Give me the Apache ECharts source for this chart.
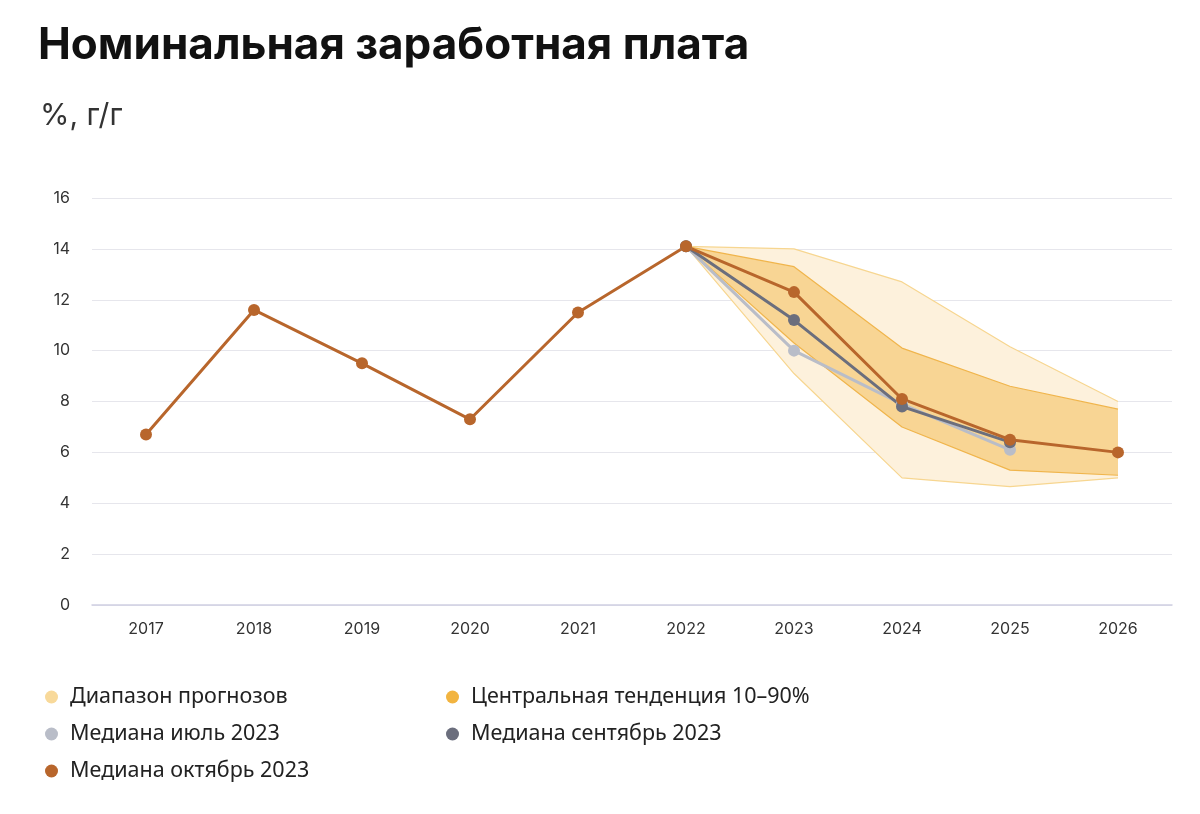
<!DOCTYPE html>
<html><head><meta charset="utf-8">
<script src="https://cdn.jsdelivr.net/npm/echarts@6/dist/echarts.min.js"></script>
<style>html,body{margin:0;padding:0;background:#fff}#c{width:1200px;height:814px}</style>
</head><body><div id="c"></div>
<script>
const years = ['2017','2018','2019','2020','2021','2022','2023','2024','2025','2026'];
const yTicks = [0,2,4,6,8,10,12,14,16];
const medianOct = [6.7, 11.6, 9.5, 7.3, 11.5, 14.1, 12.3, 8.1, 6.5, 6.0];
const medianSep = [null, null, null, null, null, 14.1, 11.2, 7.8, 6.4, null];
const medianJul = [null, null, null, null, null, 14.1, 10.0, 7.9, 6.1, null];
const rangeLow  = [null, null, null, null, null, 14.1, 9.1, 5.0, 4.65, 5.0];
const rangeHigh = [null, null, null, null, null, 14.1, 14.0, 12.7, 10.15, 8.0];
const centralLow  = [null, null, null, null, null, 14.1, 10.3, 7.0, 5.3, 5.1];
const centralHigh = [null, null, null, null, null, 14.1, 13.3, 10.1, 8.6, 7.7];

const diff = (hi, lo) => hi.map((v, i) => v == null ? null : +(v - lo[i]).toFixed(3));

const cRangeFill = '#fdf1dc', cRangeEdge = '#f7d690', cRangeLegend = '#f8d99a';
const cCentralFill = '#f8d594', cCentralEdge = '#f0b54c', cCentralLegend = '#f2b440';
const cJul = '#b9bdc8', cSep = '#6b6e7d', cOct = '#b8662c';

const chart = echarts.init(document.getElementById('c'));
const lineSeries = (name, data, color) => ({
  name, type: 'line', data, connectNulls: false,
  symbol: 'circle', symbolSize: 12, showSymbol: true,
  lineStyle: { color, width: 3 }, itemStyle: { color },
  z: 5
});
const legendText = { fontFamily: 'Noto Sans', fontSize: 21.5, color: '#222', lineHeight: 24, padding: [0,0,0,7] };
chart.setOption({
  animation: false,
  title: [
    { text: 'Номинальная заработная плата', left: 33, top: 19,
      textStyle: { fontFamily: 'Inter', fontWeight: 'bold', fontSize: 44, color: '#111' } },
    { text: '%, г/г', left: 35, top: 96,
      textStyle: { fontFamily: 'Inter', fontWeight: 'normal', fontSize: 30, color: '#333' } }
  ],
  grid: { left: 92, right: 28, top: 198, bottom: 209 },
  xAxis: {
    type: 'category', data: years, boundaryGap: true,
    axisLine: { lineStyle: { color: '#cfd0e2', width: 1.5 } },
    axisTick: { show: false },
    axisLabel: { color: '#333', fontSize: 16, fontFamily: 'Inter', margin: 16 }
  },
  yAxis: {
    type: 'value', min: yTicks[0], max: yTicks[yTicks.length - 1], interval: 2,
    axisLine: { show: false }, axisTick: { show: false },
    axisLabel: { color: '#333', fontSize: 16, fontFamily: 'Inter', margin: 22 },
    splitLine: { lineStyle: { color: '#e6e6ec', width: 1.2 } }
  },
  legend: [
    { orient: 'vertical', left: 40, top: 680, itemWidth: 13, itemHeight: 13, itemGap: 13,
      icon: 'circle', selectedMode: false, textStyle: legendText,
      data: ['Диапазон прогнозов', 'Медиана июль 2023', 'Медиана октябрь 2023'] },
    { orient: 'vertical', left: 441, top: 680, itemWidth: 13, itemHeight: 13, itemGap: 13,
      icon: 'circle', selectedMode: false, textStyle: legendText,
      data: ['Центральная тенденция 10–90%', 'Медиана сентябрь 2023'] }
  ],
  series: [
    { name: 'rangeBase', type: 'line', stack: 'range', data: rangeLow, symbol: 'none',
      lineStyle: { color: cRangeEdge, width: 1.2 }, silent: true, z: 1 },
    { name: 'Диапазон прогнозов', type: 'line', stack: 'range', data: diff(rangeHigh, rangeLow), symbol: 'none',
      lineStyle: { color: cRangeEdge, width: 1.2 }, itemStyle: { color: cRangeLegend },
      areaStyle: { color: cRangeFill, opacity: 1 }, z: 1 },
    { name: 'centralBase', type: 'line', stack: 'central', data: centralLow, symbol: 'none',
      lineStyle: { color: cCentralEdge, width: 1.2 }, silent: true, z: 2 },
    { name: 'Центральная тенденция 10–90%', type: 'line', stack: 'central', data: diff(centralHigh, centralLow), symbol: 'none',
      lineStyle: { color: cCentralEdge, width: 1.2 }, itemStyle: { color: cCentralLegend },
      areaStyle: { color: cCentralFill, opacity: 1 }, z: 2 },
    lineSeries('Медиана июль 2023', medianJul, cJul),
    lineSeries('Медиана сентябрь 2023', medianSep, cSep),
    lineSeries('Медиана октябрь 2023', medianOct, cOct)
  ]
});
</script></body></html>
